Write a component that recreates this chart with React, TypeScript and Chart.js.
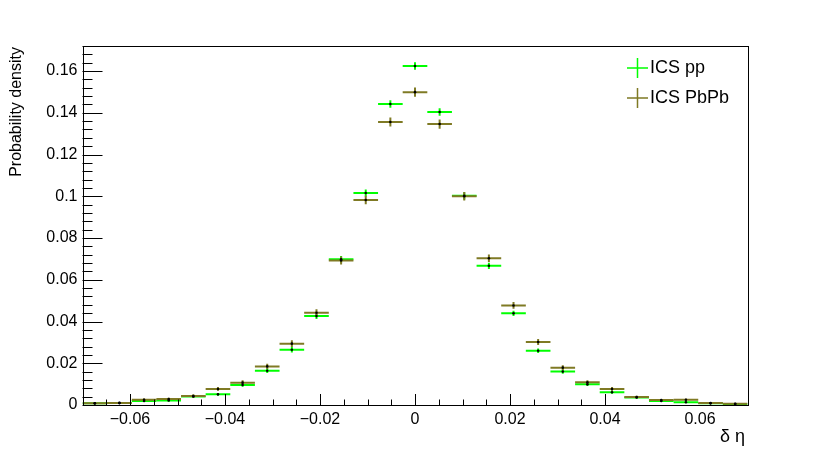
import { useEffect, useRef } from "react";
import { Chart, registerables } from "chart.js";

Chart.register(...registerables);

// Histogram binning (27 bins over [-0.07, 0.07])
const xMin = -0.07;
const xMax = 0.07;
const nBins = 27;
const yMax = 0.172;

const seriesNames = ["ICS pp", "ICS PbPb"];
const seriesColors = ["#00ff00", "#7f7a24"];

const ppValues = [
  0.0008, 0.0009, 0.0019, 0.0022, 0.0041, 0.0051, 0.0096, 0.0164, 0.0265,
  0.0426, 0.0698, 0.1016, 0.1442, 0.1624, 0.1404, 0.1002, 0.0667, 0.0439,
  0.026, 0.016, 0.0099, 0.0061, 0.0036, 0.0019, 0.0013, 0.0008, 0.0005,
];
const ppErrors = [
  0.0003, 0.0003, 0.0005, 0.0005, 0.0006, 0.0007, 0.0009, 0.0011, 0.0013,
  0.0014, 0.0016, 0.0017, 0.0018, 0.0018, 0.0018, 0.0017, 0.0015, 0.0013,
  0.0011, 0.001, 0.0008, 0.0007, 0.0005, 0.0004, 0.0004, 0.0003, 0.0002,
];
const pbpbValues = [
  0.0008, 0.001, 0.0025, 0.0029, 0.0043, 0.0077, 0.0107, 0.0185, 0.0294,
  0.0442, 0.0692, 0.0982, 0.1356, 0.1499, 0.1346, 0.1, 0.0703, 0.0477,
  0.0302, 0.0179, 0.0109, 0.0077, 0.0038, 0.0024, 0.0025, 0.0009, 0.0006,
];
const pbpbErrors = [
  0.0004, 0.0004, 0.0006, 0.0006, 0.0008, 0.0009, 0.0011, 0.0013, 0.0016,
  0.0017, 0.0019, 0.002, 0.0022, 0.0022, 0.0022, 0.002, 0.0018, 0.0016,
  0.0014, 0.0012, 0.001, 0.0009, 0.0006, 0.0005, 0.0005, 0.0004, 0.0003,
];

const xTickValues = [-0.06, -0.04, -0.02, 0, 0.02, 0.04, 0.06];
const yTickValues = [0, 0.02, 0.04, 0.06, 0.08, 0.1, 0.12, 0.14, 0.16];
const xMinorStep = 0.005;
const yMinorStep = 0.004;

const xTitle = "δ η";
const yTitle = "Probability density";

const FONT = "'Liberation Sans', Arial, Helvetica, sans-serif";

const binWidth = (xMax - xMin) / nBins;
const binCenters = Array.from({ length: nBins }, (_, i) => xMin + (i + 0.5) * binWidth);

const seriesValues = [ppValues, pbpbValues];
const seriesErrors = [ppErrors, pbpbErrors];

function fmt(v: number) {
  const s = String(Number(v.toFixed(4)));
  return s.replace("-", "\u2212");
}

const rootPlugin = {
  id: "rootStyle",
  beforeDatasetsDraw(chart: any) {
    const { ctx, chartArea } = chart;
    const xs = chart.scales.x;
    const ys = chart.scales.y;
    ctx.save();
    ctx.beginPath();
    ctx.rect(chartArea.left, chartArea.top - 2, chartArea.right - chartArea.left, chartArea.bottom - chartArea.top + 2);
    ctx.clip();
    seriesValues.forEach((vals, si) => {
      ctx.strokeStyle = seriesColors[si];
      ctx.lineWidth = 2;
      vals.forEach((v, i) => {
        const c = binCenters[i];
        const x0 = xs.getPixelForValue(c - binWidth / 2);
        const x1 = xs.getPixelForValue(c + binWidth / 2);
        const xc = xs.getPixelForValue(c);
        const y = ys.getPixelForValue(v);
        const e = seriesErrors[si][i];
        const ya = ys.getPixelForValue(v + e);
        const yb = ys.getPixelForValue(Math.max(0, v - e));
        ctx.beginPath();
        ctx.moveTo(x0, y);
        ctx.lineTo(x1, y);
        ctx.stroke();
        ctx.beginPath();
        ctx.moveTo(xc, ya);
        ctx.lineTo(xc, yb);
        ctx.stroke();
      });
    });
    ctx.restore();
  },
  afterDraw(chart: any) {
    const { ctx, chartArea } = chart;
    const xs = chart.scales.x;
    const ys = chart.scales.y;
    const { left, right, top, bottom } = chartArea;
    ctx.save();
    ctx.strokeStyle = "#000";
    ctx.lineWidth = 1;
    ctx.strokeRect(Math.round(left) + 0.5, Math.round(top) + 0.5, Math.round(right - left), Math.round(bottom - top));

    // x ticks
    const xMajLen = 11;
    const xMinLen = 5.5;
    ctx.beginPath();
    for (let k = -20; k <= 20; k++) {
      const v = xTickValues[0] + k * xMinorStep;
      if (v < xMin - 1e-9 || v > xMax + 1e-9) continue;
      const px = Math.round(xs.getPixelForValue(v)) + 0.5;
      const isMaj = xTickValues.some((t) => Math.abs(t - v) < 1e-9);
      ctx.moveTo(px, bottom);
      ctx.lineTo(px, bottom - (isMaj ? xMajLen : xMinLen));
    }
    // y ticks
    const yMajLen = 20;
    const yMinLen = 10;
    for (let k = 0; k <= 60; k++) {
      const v = k * yMinorStep;
      if (v > yMax + 1e-9) break;
      const py = Math.round(ys.getPixelForValue(v)) + 0.5;
      const isMaj = yTickValues.some((t) => Math.abs(t - v) < 1e-9);
      ctx.moveTo(left, py);
      ctx.lineTo(left + (isMaj ? yMajLen : yMinLen), py);
    }
    ctx.stroke();

    // Axis titles
    ctx.fillStyle = "#000";
    ctx.font = `18px ${FONT}`;
    ctx.textAlign = "right";
    ctx.textBaseline = "middle";
    ctx.fillText(xTitle, 745, 437);

    ctx.save();
    ctx.translate(17, 47);
    ctx.rotate(-Math.PI / 2);
    ctx.font = `16px ${FONT}`;
    ctx.textAlign = "right";
    ctx.textBaseline = "middle";
    ctx.fillText(yTitle, 0, 0);
    ctx.restore();

    // Legend
    seriesNames.forEach((name, i) => {
      const ly = 68 + i * 30;
      ctx.strokeStyle = seriesColors[i];
      ctx.lineWidth = 1.5;
      ctx.beginPath();
      ctx.moveTo(627, ly);
      ctx.lineTo(648, ly);
      ctx.moveTo(637.5, ly - 10);
      ctx.lineTo(637.5, ly + 10);
      ctx.stroke();
      ctx.fillStyle = "#000";
      ctx.font = `18px ${FONT}`;
      ctx.textAlign = "left";
      ctx.textBaseline = "middle";
      ctx.fillText(name, 650, ly);
    });
    ctx.restore();
  },
};

export default function App() {
  const ref = useRef<HTMLCanvasElement | null>(null);
  useEffect(() => {
    if (!ref.current) return;
    const datasets = seriesNames.map((name, si) => ({
      label: name,
      data: seriesValues[si].map((v, i) => ({ x: binCenters[i], y: v })),
      showLine: false,
      pointRadius: 1.3,
      pointBackgroundColor: "#000",
      pointBorderColor: "#000",
      pointBorderWidth: 0,
    }));
    const chart = new Chart(ref.current, {
      type: "scatter",
      data: { datasets },
      plugins: [rootPlugin],
      options: {
        responsive: false,
        animation: false,
        events: [],
        layout: { padding: { left: 0, right: 82.5, top: 46, bottom: 0 } },
        plugins: { legend: { display: false }, tooltip: { enabled: false } },
        scales: {
          x: {
            type: "linear",
            min: xMin,
            max: xMax,
            grid: { display: false, drawTicks: false },
            border: { display: false },
            afterBuildTicks: (s: any) => {
              s.ticks = xTickValues.map((v) => ({ value: v }));
            },
            afterFit: (s: any) => {
              s.height = 45;
            },
            ticks: {
              autoSkip: false,
              maxRotation: 0,
              padding: 5,
              color: "#000",
              font: { family: FONT, size: 16 },
              callback: (v: any) => fmt(Number(v)),
            },
          },
          y: {
            type: "linear",
            min: 0,
            max: yMax,
            grid: { display: false, drawTicks: false },
            border: { display: false },
            afterBuildTicks: (s: any) => {
              s.ticks = yTickValues.map((v) => ({ value: v }));
            },
            afterFit: (s: any) => {
              s.width = 82.5;
            },
            ticks: {
              autoSkip: false,
              padding: 5,
              color: "#000",
              font: { family: FONT, size: 16 },
              callback: (v: any) => fmt(Number(v)),
            },
          },
        },
      },
    });
    return () => chart.destroy();
  }, []);
  return (
    <div style={{ position: "absolute", left: 0, top: 0, width: 830, height: 450, background: "#fff" }}>
      <canvas ref={ref} width={830} height={450} style={{ width: 830, height: 450 }} />
    </div>
  );
}
